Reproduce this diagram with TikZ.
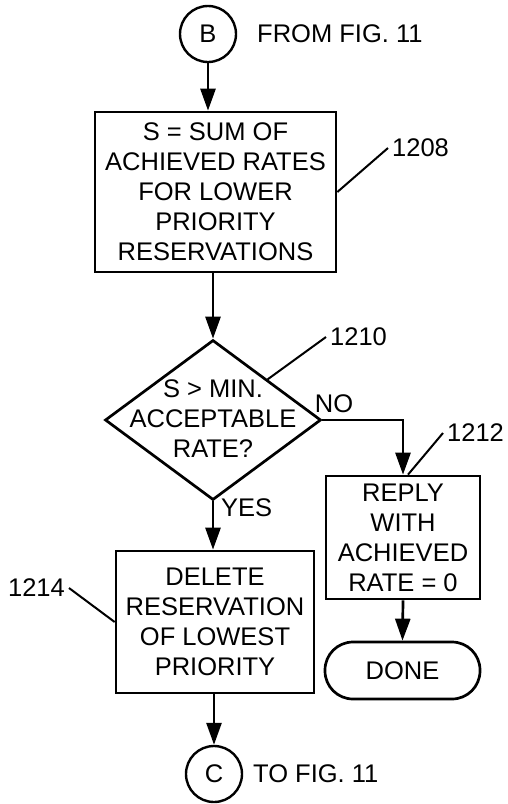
\documentclass[tikz,border=0pt]{standalone}
\usepackage{fontspec}
\setmainfont{Liberation Sans}
\usetikzlibrary{arrows.meta}
\usetikzlibrary{positioning}
\usetikzlibrary{shapes.geometric}
\begin{document}
\begin{tikzpicture}[x=1pt,y=-1pt,>={Triangle[length=22pt,width=15pt]}]
			\tikzset{stepbox/.style = {shape=rectangle, draw, line width=2.7pt, align=center, inner sep=0pt, font=\fontsize{25.5}{30}\selectfont},
				decision/.style = {shape=diamond, draw, line width=2.7pt, inner sep=0pt},
				connector/.style = {shape=circle, draw, line width=2.4pt, inner sep=0pt, minimum size=56pt, font=\fontsize{25.5}{30}\selectfont},
				flow/.style = {->, line width=2.7pt},
				leader/.style = {line width=2pt},
				refnum/.style = {font=\fontsize{25.5}{30}\selectfont, inner sep=4pt}}
			\useasboundingbox (0,0) rectangle (507,804);
			
			\node[connector] (B) at (208,34) {B};
			\node[refnum, anchor=west] (FROM) at (253,34) {FROM FIG. 11};
			
			\node[stepbox, minimum width=241pt, minimum height=160pt] (SUM) at (215.5,192)
			{S = SUM OF\\ACHIEVED RATES\\FOR LOWER\\PRIORITY\\RESERVATIONS};
			\node[refnum, anchor=west] (N1208) at (388,148) {1208};
			
			\node[decision, minimum width=216pt, minimum height=160pt] (TEST) at (213,420) {};
			\node[stepbox, draw=none] (TESTTXT) at (213,419) {S > MIN.\\ACCEPTABLE\\RATE?};
			\node[refnum, anchor=west] (N1210) at (326,337) {1210};
			
			\node[stepbox, minimum width=154pt, minimum height=123pt] (REPLY) at (403,537.5)
			{REPLY\\WITH\\ACHIEVED\\RATE = 0};
			\node[refnum, anchor=west] (N1212) at (443,433) {1212};
			\node[stepbox, rounded corners=28pt, minimum width=155pt, minimum height=57pt] (DONE) at (402.5,670.5) {DONE};
			
			\node[stepbox, minimum width=198pt, minimum height=142pt] (DELETE) at (215,622)
			{DELETE\\RESERVATION\\OF LOWEST\\PRIORITY};
			\node[refnum, anchor=east] (N1214) at (69,588) {1214};
			
			\node[connector] (C) at (214,774) {C};
			\node[refnum, anchor=west] (TO) at (249,774) {TO FIG. 11};
			
			% flow lines
			\draw[flow] (B) -- (B |- SUM.north);
			\draw[flow] (TEST |- SUM.south) -- (TEST.north);
			\draw[flow] (TEST.south) -- (TEST.south |- DELETE.north);
			\draw[flow] (C |- DELETE.south) -- (C);
			\draw[flow] (TEST.east) -| (REPLY.north);
			\draw[flow] (REPLY.south) -- (DONE.north);
			\node[refnum] (NO) at (334,404) {NO};
			\node[refnum, anchor=west] (YES) at (217,508) {YES};
			
			% reference numerals
			\draw[leader] (SUM.east) -- (N1208.west);
			\draw[leader] (TEST.north east) -- (N1210.west);
			\draw[leader] ([xshift=5pt]REPLY.north) -- (N1212.west);
			\draw[leader] (DELETE.west) -- (N1214.east);
			
			\end{tikzpicture}
\end{document}
